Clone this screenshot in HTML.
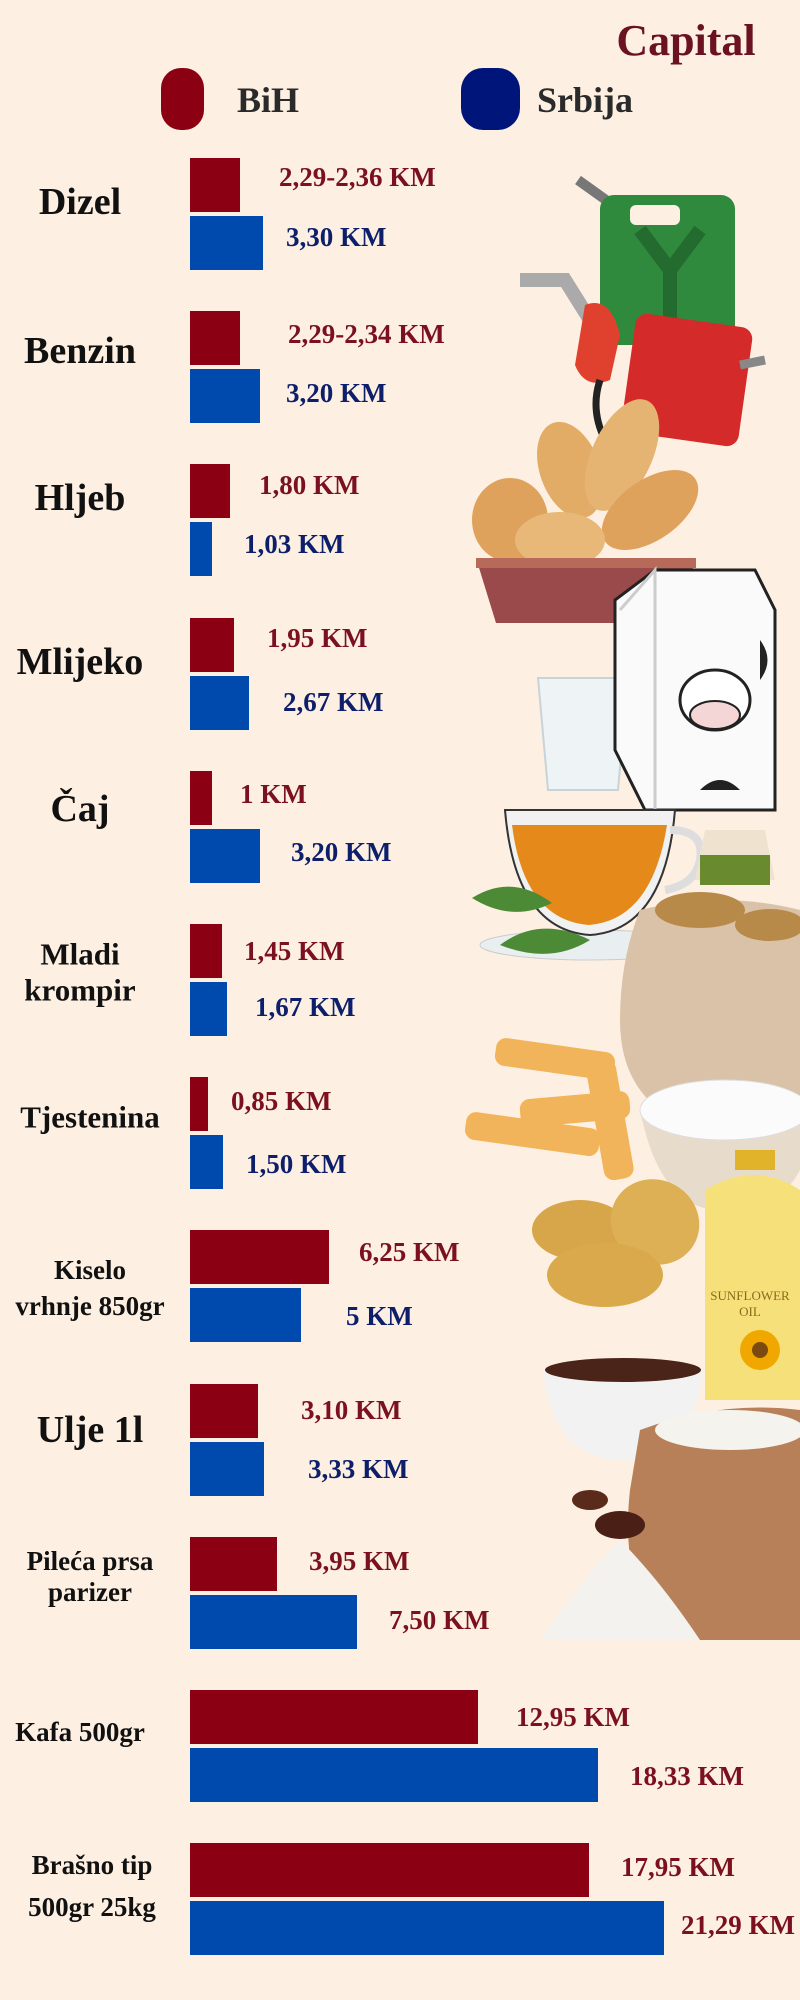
<!DOCTYPE html>
<html><head><meta charset="utf-8"><style>
html,body{margin:0;padding:0;background:#fdf0e2;}
svg{display:block}
text{font-family:"Liberation Serif",serif;font-weight:bold;}
</style></head><body>
<svg width="800" height="2000" viewBox="0 0 800 2000" xmlns="http://www.w3.org/2000/svg">
<rect width="800" height="2000" fill="#fdf0e2"/>
<g>
 <path d="M578 180 l28 20 l10 25" stroke="#777" stroke-width="10" fill="none"/>
 <rect x="600" y="195" width="135" height="150" rx="14" fill="#2f8a3e"/>
 <path d="M640 230 l30 40 l30 -40 M670 270 v50" stroke="#236b2f" stroke-width="14" fill="none"/>
 <rect x="630" y="205" width="50" height="20" rx="6" fill="#fdf0e2"/>
 <path d="M520 280 l45 0 l25 40" stroke="#aaa" stroke-width="14" fill="none"/>
 <path d="M585 305 q25 -10 35 30 l-10 45 q-25 10 -35 -15 z" fill="#e0412f"/>
 <path d="M600 380 q-10 30 5 60" stroke="#222" stroke-width="7" fill="none"/>
 <rect x="628" y="320" width="118" height="120" rx="12" fill="#d42a2a" transform="rotate(8 687 380)"/>
 <path d="M740 365 l25 -5" stroke="#888" stroke-width="9"/>
 <ellipse cx="510" cy="520" rx="38" ry="42" fill="#dea25c"/>
 <ellipse cx="570" cy="470" rx="30" ry="50" fill="#e2ab66" transform="rotate(-20 570 470)"/>
 <ellipse cx="622" cy="455" rx="30" ry="60" fill="#e6b472" transform="rotate(25 622 455)"/>
 <ellipse cx="650" cy="510" rx="30" ry="55" fill="#dea25c" transform="rotate(55 650 510)"/>
 <ellipse cx="560" cy="540" rx="45" ry="28" fill="#e8b878"/>
 <path d="M476 558 h220 l-20 65 h-180 z" fill="#9a4a4a"/>
 <path d="M476 558 h220 v10 h-220z" fill="#b76a5a"/>
 <path d="M538 678 h90 l-10 112 h-70 z" fill="#eef3f5" stroke="#c8d3d8" stroke-width="2"/>
 <path d="M655 570 h100 l20 40 v200 h-130 l-30 -60 v-150 z" fill="#fafafa" stroke="#222" stroke-width="3"/>
 <path d="M620 610 l35 -40 v240" stroke="#ccc" stroke-width="3" fill="none"/>
 <ellipse cx="715" cy="700" rx="35" ry="30" fill="#fff" stroke="#222" stroke-width="3"/>
 <ellipse cx="715" cy="715" rx="25" ry="14" fill="#f4d6d6" stroke="#222" stroke-width="2"/>
 <path d="M760 640 q15 20 0 40 z M700 790 q20 -20 40 0 z" fill="#222"/>
 <ellipse cx="590" cy="945" rx="110" ry="15" fill="#e9eef0" stroke="#ccc"/>
 <path d="M505 810 h170 q-10 120 -85 125 q-75 -5 -85 -125z" fill="#f1f1f1" stroke="#333" stroke-width="2"/>
 <path d="M512 825 h155 q-15 95 -78 100 q-65 -5 -77 -100z" fill="#e58a1a"/>
 <path d="M670 830 q35 0 30 30 q-5 25 -35 30" stroke="#ddd" stroke-width="8" fill="none"/>
 <path d="M472 898 q40 -25 80 5 q-40 20 -80 -5z M500 945 q40 -30 90 -5 q-40 25 -90 5z" fill="#4c8a35"/>
 <path d="M705 830 h60 l10 50 h-80 z" fill="#efe3cf"/>
 <rect x="700" y="855" width="70" height="30" fill="#6a8a30"/>
 <path d="M640 910 q80 -20 160 0 v200 h-140 q-40 -30 -40 -90 q0 -60 20 -110z" fill="#d9c2a8"/>
 <ellipse cx="700" cy="910" rx="45" ry="18" fill="#b88a4a"/>
 <ellipse cx="770" cy="925" rx="35" ry="16" fill="#b88a4a"/>
 <g fill="#f2b45a">
 <rect x="495" y="1045" width="120" height="28" rx="10" transform="rotate(8 555 1059)"/>
 <rect x="465" y="1120" width="135" height="28" rx="10" transform="rotate(8 532 1134)"/>
 <rect x="520" y="1095" width="110" height="28" rx="10" transform="rotate(-5 575 1109)"/>
 <rect x="595" y="1060" width="30" height="120" rx="10" transform="rotate(-10 610 1120)"/>
 </g>
 <path d="M640 1110 h160 v60 q-20 40 -80 40 q-60 0 -80 -100z" fill="#e7dccc"/>
 <ellipse cx="725" cy="1110" rx="85" ry="30" fill="#fbfbfb" stroke="#ddd"/>
 <rect x="735" y="1150" width="40" height="20" fill="#e0b32a"/>
 <path d="M705 1190 q50 -30 95 0 v210 h-95z" fill="#f6e07a"/>
 <circle cx="760" cy="1350" r="20" fill="#f0a800"/>
 <circle cx="760" cy="1350" r="8" fill="#7a4a10"/>
 <text x="750" y="1300" font-size="13" fill="#8a6a1a" text-anchor="middle" style="font-weight:normal">SUNFLOWER</text>
 <text x="750" y="1316" font-size="13" fill="#8a6a1a" text-anchor="middle" style="font-weight:normal">OIL</text>
 <ellipse cx="580" cy="1230" rx="48" ry="30" fill="#d7a64a"/>
 <ellipse cx="655" cy="1222" rx="45" ry="42" fill="#deb055" transform="rotate(30 655 1222)"/>
 <ellipse cx="605" cy="1275" rx="58" ry="32" fill="#d9a94c"/>
 <path d="M543 1370 h160 q-10 90 -80 90 q-70 0 -80 -90z" fill="#f2f2f2"/>
 <ellipse cx="623" cy="1370" rx="78" ry="12" fill="#4a2418"/>
 <path d="M640 1430 q80 -30 160 -20 v230 h-140 q-40 -60 -30 -150 z" fill="#b88058"/>
 <ellipse cx="730" cy="1430" rx="75" ry="20" fill="#f5f3ee"/>
 <ellipse cx="590" cy="1500" rx="18" ry="10" fill="#5a2a1a"/>
 <ellipse cx="620" cy="1525" rx="25" ry="14" fill="#4a2016"/>
 <path d="M540 1640 q50 -70 80 -100 q40 40 80 100z" fill="#f4f2ee"/>
</g>
<text x="686" y="55" font-size="44" fill="#6b1222" text-anchor="middle">Capital</text>
<rect x="161" y="68" width="43" height="62" rx="20" fill="#8b0012"/>
<text x="237" y="112" font-size="36" fill="#2a2a2a">BiH</text>
<rect x="461" y="68" width="59" height="62" rx="22" fill="#00157a"/>
<text x="537" y="112" font-size="36" fill="#2a2a2a">Srbija</text>
<g fill="#8b0012">
<rect x="190" y="158" width="50" height="54"/>
<rect x="190" y="311" width="50" height="54"/>
<rect x="190" y="464" width="40" height="54"/>
<rect x="190" y="618" width="44" height="54"/>
<rect x="190" y="771" width="22" height="54"/>
<rect x="190" y="924" width="32" height="54"/>
<rect x="190" y="1077" width="18" height="54"/>
<rect x="190" y="1230" width="139" height="54"/>
<rect x="190" y="1384" width="68" height="54"/>
<rect x="190" y="1537" width="87" height="54"/>
<rect x="190" y="1690" width="288" height="54"/>
<rect x="190" y="1843" width="399" height="54"/>
</g>
<g fill="#004aad">
<rect x="190" y="216" width="73" height="54"/>
<rect x="190" y="369" width="70" height="54"/>
<rect x="190" y="522" width="22" height="54"/>
<rect x="190" y="676" width="59" height="54"/>
<rect x="190" y="829" width="70" height="54"/>
<rect x="190" y="982" width="37" height="54"/>
<rect x="190" y="1135" width="33" height="54"/>
<rect x="190" y="1288" width="111" height="54"/>
<rect x="190" y="1442" width="74" height="54"/>
<rect x="190" y="1595" width="167" height="54"/>
<rect x="190" y="1748" width="408" height="54"/>
<rect x="190" y="1901" width="474" height="54"/>
</g>
<g font-size="27" dominant-baseline="central">
<text x="279" y="177" fill="#7b1020">2,29-2,36 KM</text>
<text x="286" y="237" fill="#0d1f6b">3,30 KM</text>
<text x="288" y="334" fill="#7b1020">2,29-2,34 KM</text>
<text x="286" y="393" fill="#0d1f6b">3,20 KM</text>
<text x="259" y="485" fill="#7b1020">1,80 KM</text>
<text x="244" y="544" fill="#0d1f6b">1,03 KM</text>
<text x="267" y="638" fill="#7b1020">1,95 KM</text>
<text x="283" y="702" fill="#0d1f6b">2,67 KM</text>
<text x="240" y="794" fill="#7b1020">1 KM</text>
<text x="291" y="852" fill="#0d1f6b">3,20 KM</text>
<text x="244" y="951" fill="#7b1020">1,45 KM</text>
<text x="255" y="1007" fill="#0d1f6b">1,67 KM</text>
<text x="231" y="1101" fill="#7b1020">0,85 KM</text>
<text x="246" y="1164" fill="#0d1f6b">1,50 KM</text>
<text x="359" y="1252" fill="#7b1020">6,25 KM</text>
<text x="346" y="1316" fill="#0d1f6b">5 KM</text>
<text x="301" y="1410" fill="#7b1020">3,10 KM</text>
<text x="308" y="1469" fill="#0d1f6b">3,33 KM</text>
<text x="309" y="1561" fill="#7b1020">3,95 KM</text>
<text x="389" y="1620" fill="#7b1020">7,50 KM</text>
<text x="516" y="1717" fill="#7b1020">12,95 KM</text>
<text x="630" y="1776" fill="#7b1020">18,33 KM</text>
<text x="621" y="1867" fill="#7b1020">17,95 KM</text>
<text x="681" y="1925" fill="#7b1020">21,29 KM</text>
</g>
<g fill="#111" text-anchor="middle" dominant-baseline="central">
<text x="80" y="202" font-size="38">Dizel</text>
<text x="80" y="351" font-size="38">Benzin</text>
<text x="80" y="498" font-size="38">Hljeb</text>
<text x="80" y="662" font-size="38">Mlijeko</text>
<text x="80" y="809" font-size="38">Čaj</text>
<text x="80" y="954" font-size="31">Mladi</text>
<text x="80" y="990" font-size="31">krompir</text>
<text x="90" y="1117" font-size="31">Tjestenina</text>
<text x="90" y="1270" font-size="27">Kiselo</text>
<text x="90" y="1306" font-size="27">vrhnje 850gr</text>
<text x="90" y="1430" font-size="38">Ulje 1l</text>
<text x="90" y="1561" font-size="27">Pileća prsa</text>
<text x="90" y="1592" font-size="27">parizer</text>
<text x="80" y="1732" font-size="27">Kafa 500gr</text>
<text x="92" y="1865" font-size="27">Brašno tip</text>
<text x="92" y="1907" font-size="27">500gr 25kg</text>
</g>
</svg>
</body></html>
